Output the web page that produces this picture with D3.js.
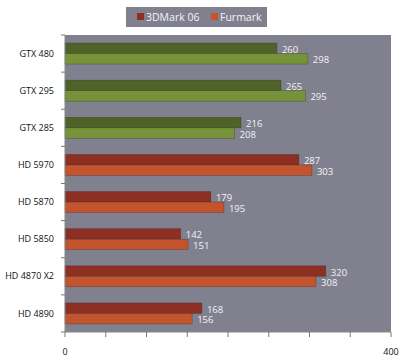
<!DOCTYPE html>
<html><head><meta charset="utf-8">
<script src="https://cdn.jsdelivr.net/npm/d3@7"></script>
<style>body{margin:0;background:#fff}svg{display:block}</style>
</head><body>
<svg id="c" width="400" height="357"></svg>
<script>
const categories = ["GTX 480","GTX 295","GTX 285","HD 5970","HD 5870","HD 5850","HD 4870 X2","HD 4890"];
const mark06 = [260,265,216,287,179,142,320,168];
const furmark = [298,295,208,303,195,151,308,156];
const seriesNames = ["3DMark 06","Furmark"];
const xTicks = [0,400];

const svg = d3.select("#c");
const L=65, R=391, T=35, B=332;
const font = "'Open Sans', sans-serif";
const x = d3.scaleLinear().domain([0,400]).range([L,R]);
const y = d3.scaleBand().domain(categories).range([T,B]);
const sub = d3.scaleBand().domain([0,1]).range([0,21]);
const isNv = c => c.startsWith("GTX");
const colors = {nv:["#4f6228","#779339"], amd:["#8e2f24","#c3542e"]};

svg.append("rect").attr("x",L).attr("y",T).attr("width",R-L).attr("height",B-T).attr("fill","#80808f");

const rows = categories.map((c,i)=>({c, v:[mark06[i],furmark[i]]}));
const g = svg.append("g");
rows.forEach(r=>{
  const cols = isNv(r.c)?colors.nv:colors.amd;
  const y0 = y(r.c)+y.bandwidth()/2-10.5;
  r.v.forEach((v,j)=>{
    g.append("rect").attr("x",x(0)).attr("y",y0+sub(j)).attr("width",x(v)-x(0)).attr("height",sub.bandwidth())
      .attr("fill",cols[j]).attr("stroke","rgba(40,40,40,0.45)").attr("stroke-width",0.6);
    g.append("text").attr("x",x(v)+5).attr("y",y0+sub(j)+sub.bandwidth()/2+1.2).attr("dy","0.35em")
      .attr("fill","#f4f4f4").attr("font-family",font).attr("font-size",9.5).text(v);
  });
});

// y axis
const yAxis = svg.append("g").attr("transform",`translate(${L},0)`);
yAxis.append("line").attr("x1",0).attr("x2",0).attr("y1",T).attr("y2",B).attr("stroke","#888");
d3.range(categories.length+1).forEach(i=>{
  const yy = T + i*y.step();
  yAxis.append("line").attr("x1",-4).attr("x2",0).attr("y1",yy).attr("y2",yy).attr("stroke","#777");
});
categories.forEach(c=>{
  yAxis.append("text").attr("x",-11).attr("y",y(c)+y.bandwidth()/2).attr("dy","0.35em").attr("text-anchor","end")
    .attr("font-family",font).attr("font-size",9).attr("fill","#111").text(c);
});

// x axis
const xAxis = svg.append("g").attr("transform",`translate(0,${B})`);
xAxis.append("line").attr("x1",L).attr("x2",R).attr("stroke","#888");
d3.range(0,401,50).forEach(t=>{
  xAxis.append("line").attr("x1",x(t)).attr("x2",x(t)).attr("y1",0).attr("y2",5).attr("stroke","#777");
});
xTicks.forEach(t=>{
  xAxis.append("text").attr("x",x(t)).attr("y",20).attr("dy","0.35em").attr("text-anchor","middle")
    .attr("font-family",font).attr("font-size",9).attr("fill","#111").text(t);
});

// legend
const lg = svg.append("g");
lg.append("rect").attr("x",126).attr("y",7).attr("width",141).attr("height",20).attr("fill","#80808f");
const lx = [137,211];
seriesNames.forEach((s,j)=>{
  lg.append("rect").attr("x",lx[j]).attr("y",13).attr("width",7).attr("height",7).attr("fill",colors.amd[j]);
  lg.append("text").attr("x",lx[j]+9).attr("y",17).attr("dy","0.35em").attr("font-family",font).attr("font-size",10.5)
    .attr("fill","#f4f4f4").text(s);
});
</script>
</body></html>
